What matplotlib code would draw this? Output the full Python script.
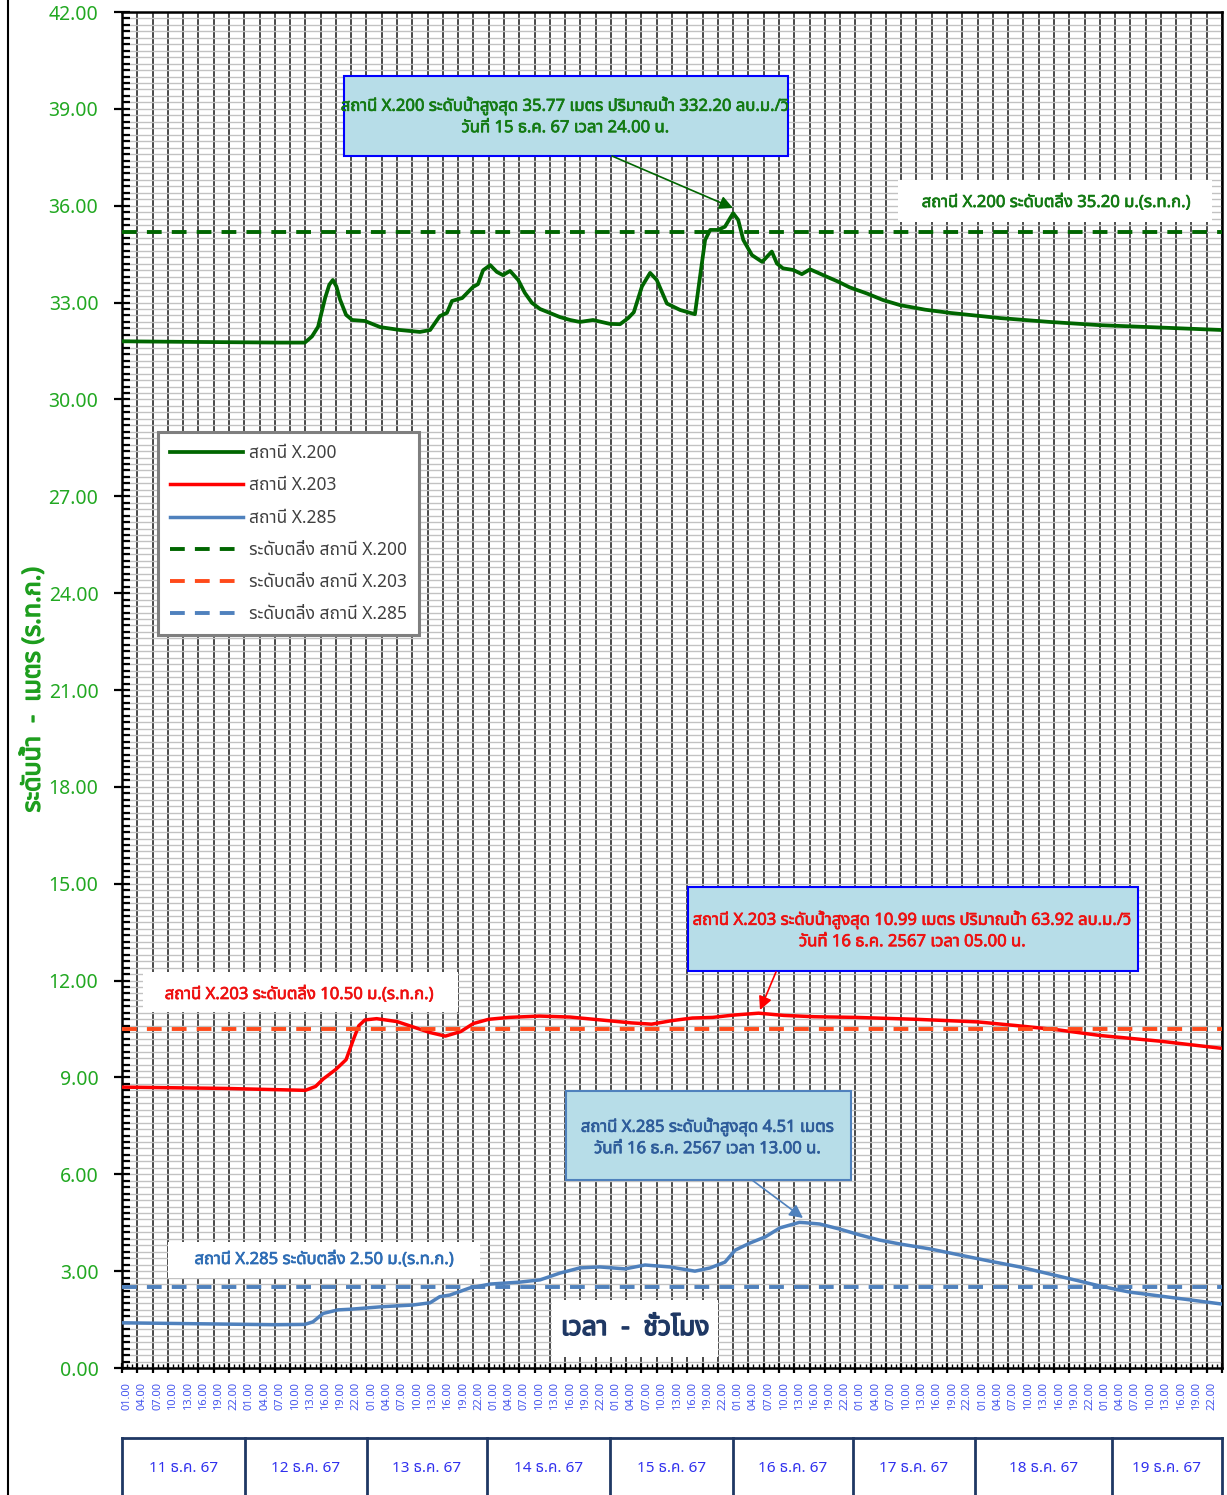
"""Water level chart for stations X.200 / X.203 / X.285, 11-19 Dec 67."""

import matplotlib
matplotlib.use("Agg")
import matplotlib.pyplot as plt
from matplotlib import font_manager, patheffects
from matplotlib.ft2font import FT2Font
from matplotlib.lines import Line2D
from matplotlib.patches import Rectangle


# ---- data (hour 0 = 00.00 of 11 Dec) -------------------------------------
X200_HOURS = [0, 15, 31, 35.9, 37.3, 38.5, 39.9, 40.7, 41.4, 42.1, 42.8, 44, 45.2, 47.7,
              50.7, 54.6, 58.5, 60.5, 62.4, 63.8, 64.8, 66.8, 68.9, 69.9, 70.9, 72.3, 73.6,
              74.8, 76.2, 77.8, 79.1, 80.5, 82.1, 84, 86, 88, 89.9, 92.5, 95.8, 97.8, 99.4,
              100.5, 102.1, 103.7, 105, 107, 109.6, 112.5, 113.5, 114.5, 115.5, 117,
              118.4, 120, 121, 122, 123.7, 125.7, 127.6, 128.6, 129.8, 131.8, 133.5,
              135.1, 136.7, 138.4, 140.6, 142.9, 146.3, 149.4, 152.8, 157.7, 162.6,
              167.5, 172.4, 182.2, 192, 201.8, 216]
X200_LEVEL = [31.80, 31.78, 31.76, 31.76, 31.95, 32.25, 33.15, 33.55, 33.70, 33.50, 33.10,
              32.62, 32.46, 32.43, 32.24, 32.15, 32.09, 32.15, 32.58, 32.68, 33.05, 33.14,
              33.48, 33.57, 34.00, 34.16, 33.95, 33.85, 33.98, 33.70, 33.30, 32.99, 32.80,
              32.68, 32.55, 32.46, 32.40, 32.46, 32.34, 32.33, 32.52, 32.70, 33.50, 33.92,
              33.70, 32.97, 32.77, 32.64, 33.80, 34.94, 35.25, 35.25, 35.35, 35.77, 35.56,
              34.94, 34.47, 34.26, 34.58, 34.21, 34.06, 34.01, 33.88, 34.03, 33.92, 33.80,
              33.65, 33.47, 33.28, 33.08, 32.92, 32.78, 32.68, 32.60, 32.52, 32.40, 32.30,
              32.24, 32.15]

X203_HOURS = [0, 20, 36, 38, 39.5, 42, 44, 45.5, 46.5, 47.7, 50, 54, 58, 60.5, 63.5, 66.5,
              69, 72, 76, 82, 88, 94, 100, 104, 108, 112, 116, 120, 125, 130, 136, 144,
              156, 168, 176, 184, 192, 204, 216]
X203_LEVEL = [8.70, 8.66, 8.60, 8.72, 8.95, 9.25, 9.55, 10.20, 10.60, 10.78, 10.82, 10.73,
              10.52, 10.39, 10.28, 10.42, 10.67, 10.80, 10.86, 10.90, 10.87, 10.78, 10.69,
              10.65, 10.76, 10.84, 10.86, 10.93, 10.99, 10.92, 10.88, 10.86, 10.80, 10.72,
              10.60, 10.47, 10.30, 10.12, 9.90]

X285_HOURS = [0, 15, 30, 35.9, 37.5, 39.5, 42.4, 44.8, 51.2, 57.1, 60.5, 62.4, 64.4, 68.3,
              72.3, 78.1, 82.1, 86, 89.9, 93.8, 98.8, 102.7, 107.6, 112.5, 115.5, 118.4,
              120.4, 123.3, 126.3, 129.2, 133, 134.1, 137, 141, 144.9, 148.8, 152.8, 158.6,
              164.5, 170.4, 176.3, 182.2, 188.1, 192, 197.9, 203.8, 209.7, 216]
X285_LEVEL = [1.40, 1.37, 1.34, 1.35, 1.43, 1.69, 1.80, 1.82, 1.90, 1.95, 2.02, 2.21, 2.26,
              2.48, 2.60, 2.66, 2.73, 2.94, 3.10, 3.13, 3.07, 3.19, 3.13, 3.00, 3.10, 3.28,
              3.65, 3.87, 4.06, 4.34, 4.51, 4.50, 4.46, 4.30, 4.12, 3.96, 3.84, 3.69, 3.50,
              3.31, 3.13, 2.91, 2.69, 2.54, 2.35, 2.23, 2.11, 1.98]

THRESHOLDS = [35.20, 10.50, 2.50]

SERIES_NAMES = ["สถานี X.200", "สถานี X.203", "สถานี X.285"]
THRESHOLD_NAMES = ["ระดับตลิ่ง สถานี X.200", "ระดับตลิ่ง สถานี X.203", "ระดับตลิ่ง สถานี X.285"]

HOUR_LABELS = ["01.00", "04.00", "07.00", "10.00", "13.00", "16.00", "19.00", "22.00"]
DAY_LABELS = ["11 ธ.ค. 67", "12 ธ.ค. 67", "13 ธ.ค. 67", "14 ธ.ค. 67", "15 ธ.ค. 67",
              "16 ธ.ค. 67", "17 ธ.ค. 67", "18 ธ.ค. 67", "19 ธ.ค. 67"]

GREEN = "#006600"
RED = "#ff0000"
ORANGE = "#ff4a1a"
BLUE = "#4f81bd"
BOX_FILL = "#b7dde8"

W, H = 1227, 1495


def pick_thai_font():
    preferred = ["Tahoma", "Leelawadee UI", "Noto Sans Thai", "Noto Sans Thai UI", "Loma",
                 "Garuda", "Sarabun", "Waree", "Norasi", "Noto Serif Thai"]
    found = {}
    for entry in font_manager.fontManager.ttflist:
        if entry.name in found:
            continue
        try:
            cmap = FT2Font(entry.fname).get_charmap()
        except Exception:
            continue
        if 0x0E2A in cmap and 0x0031 in cmap:
            found[entry.name] = entry.fname
    for name in preferred:
        if name in found:
            return name
    return sorted(found)[0] if found else None


thai = pick_thai_font()
plt.rcParams["font.family"] = ([thai] if thai else []) + ["DejaVu Sans"]


def px_x(x):
    # figure pixel -> hour on the chart axis
    return (x - 122) / (1100 / 216)


def px_y(y):
    return (1368 - y) / (1356 / 42)


def heavy(color, width=0.5):
    # the Thai face has no bold cut, so thicken the strokes a little
    return [patheffects.withStroke(linewidth=width, foreground=color)]


fig = plt.figure(figsize=(W / 100, H / 100), dpi=100)
ax = fig.add_axes([122 / W, 1 - 1368 / H, 1100 / W, 1356 / H])

ax.set_xlim(0, 216)
ax.set_ylim(0, 42)

# grid
ax.set_yticks([i * 3 for i in range(15)])
ax.set_yticks([i * 0.2 for i in range(211)], minor=True)
ax.set_yticklabels([f"{i * 3:.2f}" for i in range(15)])
ax.set_xticks(range(0, 217, 3))
ax.set_xticks(range(0, 217), minor=True)
ax.set_xticklabels([])
ax.grid(axis="y", which="both", color="#c2c2c2", lw=1.0, zorder=0)
ax.grid(axis="x", which="major", color="#4a4a4a", lw=1.4, zorder=0)
ax.set_axisbelow(True)

ax.tick_params(axis="y", which="major", direction="inout", length=12, width=1.6,
               labelsize=14, labelcolor="#22a822", pad=11)
ax.tick_params(axis="y", which="minor", direction="in", length=6, width=1.6)
ax.tick_params(axis="x", which="major", direction="inout", length=7, width=1.6)
ax.tick_params(axis="x", which="minor", direction="in", length=3, width=1.0)
for sp in ax.spines.values():
    sp.set_linewidth(1.8)
    sp.set_color("black")

sec = ax.secondary_xaxis("bottom")
sec.set_xticks(range(1, 216, 3), labels=HOUR_LABELS * len(DAY_LABELS))
sec.tick_params(length=0, rotation=90, labelsize=8, labelcolor="#4455ee", pad=10)
sec.spines["bottom"].set_visible(False)

# series
ax.plot(X200_HOURS, X200_LEVEL, color=GREEN, lw=2.7, label=SERIES_NAMES[0], zorder=3,
        solid_joinstyle="round")
ax.plot(X203_HOURS, X203_LEVEL, color=RED, lw=2.5, label=SERIES_NAMES[1], zorder=3,
        solid_joinstyle="round")
ax.plot(X285_HOURS, X285_LEVEL, color=BLUE, lw=2.5, label=SERIES_NAMES[2], zorder=3,
        solid_joinstyle="round")
for level, color, name in zip(THRESHOLDS, [GREEN, ORANGE, BLUE], THRESHOLD_NAMES):
    ax.axhline(level, color=color, lw=2.8, ls=(0, (3.8, 2.6)), label=name, zorder=3)

leg = ax.legend(loc="upper left", bbox_to_anchor=((158 - 122) / 1100, (1368 - 432) / 1356),
                borderaxespad=0, fontsize=12.5, handlelength=4.2, labelspacing=0.82,
                frameon=True, fancybox=False, framealpha=1, borderpad=0.7,
                handletextpad=0.35)
leg.get_frame().set_edgecolor("#7f7f7f")
leg.get_frame().set_linewidth(2.2)
for t in leg.get_texts():
    t.set_color("#404040")
leg.set_zorder(6)


def box(x0, y0, x1, y1, fill, edge=None, lw=1.5):
    r = Rectangle((px_x(x0), px_y(y1)), px_x(x1) - px_x(x0), px_y(y0) - px_y(y1),
                  facecolor=fill, edgecolor=edge if edge else "none", lw=lw, zorder=5)
    ax.add_patch(r)


def label(x, y, text, color, size):
    ax.text(px_x(x), px_y(y), text, ha="center", va="center", color=color, fontsize=size,
            zorder=6, linespacing=1.45, path_effects=heavy(color))


def arrow(x0, y0, x1, y1, color):
    ax.annotate("", xy=(px_x(x1), px_y(y1)), xytext=(px_x(x0), px_y(y0)), zorder=6,
                arrowprops=dict(arrowstyle="-|>", color=color, lw=1.2, mutation_scale=20,
                                shrinkA=0, shrinkB=0))


# peak annotation X.200
box(344, 76, 788, 156, BOX_FILL, "#0000ff")
label(566, 117, "สถานี X.200 ระดับน้ำสูงสุด 35.77 เมตร ปริมาณน้ำ 332.20 ลบ.ม./วิ\n"
      "วันที่ 15 ธ.ค. 67 เวลา 24.00 น.", "#137a13", 12)
arrow(612, 156, 733, 208, GREEN)
box(898, 180, 1212, 222, "white")
label(1057, 203, "สถานี X.200 ระดับตลิ่ง 35.20 ม.(ร.ท.ก.)", "#137a13", 12)

# peak annotation X.203
box(688, 887, 1138, 971, BOX_FILL, "#0000ff")
label(913, 931, "สถานี X.203 ระดับน้ำสูงสุด 10.99 เมตร ปริมาณน้ำ 63.92 ลบ.ม./วิ\n"
      "วันที่ 16 ธ.ค. 2567 เวลา 05.00 น.", "#ee1111", 12)
arrow(776, 972, 760, 1010, RED)
box(143, 972, 458, 1012, "white")
label(300, 995, "สถานี X.203 ระดับตลิ่ง 10.50 ม.(ร.ท.ก.)", "#ee1111", 12)

# peak annotation X.285
box(566, 1091, 851, 1180, BOX_FILL, "#4f81bd")
label(708, 1138, "สถานี X.285 ระดับน้ำสูงสุด 4.51 เมตร\nวันที่ 16 ธ.ค. 2567 เวลา 13.00 น.",
      "#2e5c9a", 12)
arrow(752, 1180, 803, 1218, BLUE)
box(168, 1242, 480, 1278, "white")
label(325, 1260, "สถานี X.285 ระดับตลิ่ง 2.50 ม.(ร.ท.ก.)", "#2e6db5", 12)

# axis titles
box(552, 1300, 718, 1357, "white")
ax.text(px_x(635), px_y(1328), "เวลา  -  ชั่วโมง", ha="center", va="center",
        color="#1f3864", fontsize=19, zorder=6, path_effects=heavy("#1f3864", 1.1))
fig.text(33 / W, 1 - 690 / H, "ระดับน้ำ  -  เมตร (ร.ท.ก.)", rotation=90, ha="center",
         va="center", color="#1e9e1e", fontsize=18, path_effects=heavy("#1e9e1e", 0.9))

# left border of the sheet
fig.add_artist(Line2D([8 / W, 8 / W], [0, 1], color="black", lw=1.5))

# day boxes under the axis
bounds = [122, 245, 367, 487, 610, 733, 853, 975, 1112, 1222]
dax = fig.add_axes([0, 0, 1, 58 / H])
dax.set_xlim(0, W)
dax.set_ylim(0, 58)
dax.axis("off")
dax.plot([bounds[0], bounds[-1]], [57, 57], color="#1f3864", lw=2)
for b in bounds:
    dax.plot([b, b], [0, 57], color="#1f3864", lw=2)
for left, right, day in zip(bounds[:-1], bounds[1:], DAY_LABELS):
    dax.text((left + right) / 2, 27, day, ha="center", va="center", color="#3030ee",
             fontsize=11)

fig.savefig("out.png", dpi=100, facecolor="white")
